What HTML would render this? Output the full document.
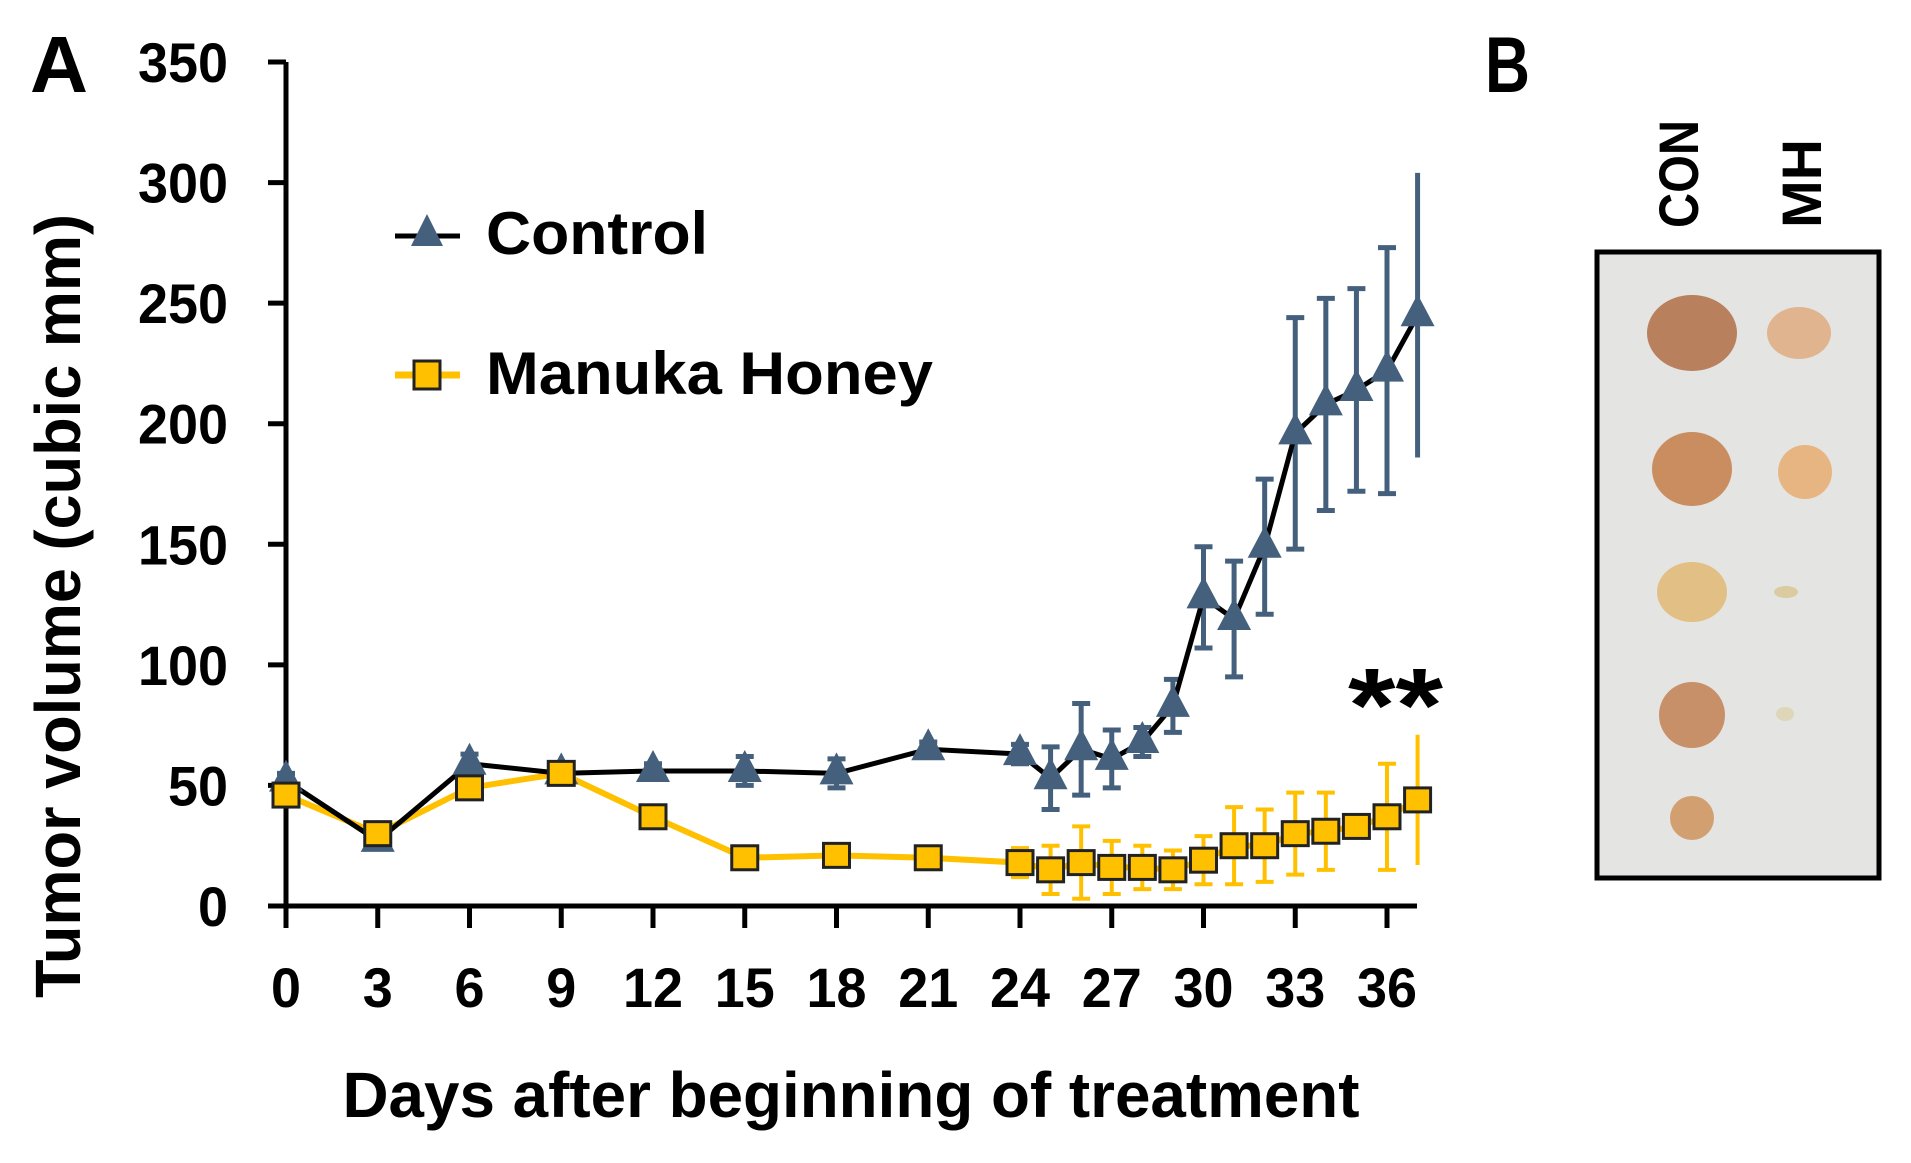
<!DOCTYPE html>
<html><head><meta charset="utf-8"><style>
html,body{margin:0;padding:0;background:#fff;}
svg{display:block;font-family:"Liberation Sans",sans-serif;font-weight:bold;}
</style></head><body>
<svg id="chart" width="1911" height="1163" viewBox="0 0 1911 1163">
<text x="30" y="92" font-size="80" textLength="58" lengthAdjust="spacingAndGlyphs">A</text>
<text x="1485" y="92" font-size="79" textLength="45" lengthAdjust="spacingAndGlyphs">B</text>
<g id="axes"></g>
<g id="marks"></g>
<text transform="translate(80,606) rotate(-90)" text-anchor="middle" font-size="64" textLength="784" lengthAdjust="spacingAndGlyphs">Tumor volume (cubic mm)</text>
<text x="851" y="1117" text-anchor="middle" font-size="64" textLength="1017" lengthAdjust="spacingAndGlyphs">Days after beginning of treatment</text>
<g>
<g>
<line x1="395" y1="236" x2="460" y2="236" stroke="#000" stroke-width="5"/>
<polygon points="427,214 443,246 411,246" fill="#44607d"/>
<text x="486" y="254" font-size="60" textLength="222" lengthAdjust="spacingAndGlyphs">Control</text></g>
<g>
<line x1="395" y1="375" x2="460" y2="375" stroke="#FFC000" stroke-width="7"/>
<rect x="414" y="361" width="26" height="28" fill="#FFC000" stroke="#222" stroke-width="3"/>
<text x="486" y="394" font-size="60" textLength="447" lengthAdjust="spacingAndGlyphs">Manuka Honey</text></g>
</g>
<text x="1348" y="741" font-size="105" textLength="95" lengthAdjust="spacingAndGlyphs">**</text>
<g>
<rect x="1597" y="252" width="282" height="626" fill="#e4e4e2" stroke="#000" stroke-width="5"/>
<ellipse cx="1692" cy="333" rx="45" ry="38" fill="#b8805c"/>
<ellipse cx="1799" cy="333" rx="32" ry="26" fill="#e0b48e"/>
<ellipse cx="1692" cy="469" rx="40" ry="37" fill="#c98d60"/>
<ellipse cx="1805" cy="472" rx="27" ry="27" fill="#e6b582"/>
<ellipse cx="1692" cy="592" rx="35" ry="30" fill="#e2bf84"/>
<ellipse cx="1786" cy="592" rx="12" ry="6" fill="#dccaa0"/>
<ellipse cx="1692" cy="715" rx="33" ry="33" fill="#c89068"/>
<ellipse cx="1785" cy="714" rx="9" ry="7" fill="#ded6b8"/>
<ellipse cx="1692" cy="818" rx="22" ry="22" fill="#d2a070"/>
</g>
<text transform="translate(1698,228) rotate(-90)" font-size="56" textLength="108" lengthAdjust="spacingAndGlyphs">CON</text>
<text transform="translate(1821,228) rotate(-90)" font-size="56" textLength="89" lengthAdjust="spacingAndGlyphs">MH</text>
</svg>
<script>
const days=[0,3,6,9,12,15,18,21,24,25,26,27,28,29,30,31,32,33,34,35,36,37];
const controlVals=[52,27,59,55,56,56,55,65,63,53,65,61,68,83,128,119,149,196,208,214,222,245];
const controlErr=[3,2,4,2,3,6,6,3,4,13,19,12,6,11,21,24,28,48,44,42,51,59];
const mhVals=[46,30,49,55,37,20,21,20,18,15,18,16,16,15,19,25,25,30,31,33,37,44];
const mhErr=[2,2,2,2,2,2,2,2,6,10,15,11,9,8,10,16,15,17,16,0,22,27];
const yTicks=[0,50,100,150,200,250,300,350];
const xTicks=[0,3,6,9,12,15,18,21,24,27,30,33,36];
const NS="http://www.w3.org/2000/svg";
const X0=286,XPD=(1387-286)/36,Y0=906,YPU=(906-62)/350;
const xs=d=>X0+d*XPD, ys=v=>Y0-v*YPU;
function el(t,a,p){const e=document.createElementNS(NS,t);for(const k in a)e.setAttribute(k,a[k]);p.appendChild(e);return e;}
const axes=document.getElementById('axes'),marks=document.getElementById('marks');
let e=el('line',{x1:X0-18,y1:ys(0),x2:1417,y2:ys(0),stroke:'#000','stroke-width':5},axes);


e=el('line',{x1:X0,y1:ys(350),x2:X0,y2:ys(0)+22,stroke:'#000','stroke-width':5},axes);


yTicks.forEach(v=>{
 el('line',{x1:X0-18,y1:ys(v),x2:X0,y2:ys(v),stroke:'#000','stroke-width':5},axes);
 const t=el('text',{x:228,y:ys(v)+20,'text-anchor':'end','font-size':56,textLength:String(v).length*30,lengthAdjust:'spacingAndGlyphs'},axes);t.textContent=v;
 
 
});
xTicks.forEach(d=>{
 el('line',{x1:xs(d),y1:ys(0),x2:xs(d),y2:ys(0)+22,stroke:'#000','stroke-width':5},axes);
 const t=el('text',{x:xs(d),y:1007,'text-anchor':'middle','font-size':56,textLength:String(d).length*30,lengthAdjust:'spacingAndGlyphs'},axes);t.textContent=d;
 
 
});
function errs(vals,errv,col,w,name){
 days.forEach((d,i)=>{if(!errv[i])return;const x=xs(d),a=ys(vals[i]+errv[i]),b=ys(Math.max(0,vals[i]-errv[i]));
  const g=el('g',{},marks);
  
  
  el('line',{x1:x,y1:a,x2:x,y2:b,stroke:col,'stroke-width':w},g);
  if(i<days.length-1){el('line',{x1:x-9,y1:a,x2:x+9,y2:a,stroke:col,'stroke-width':w},g);el('line',{x1:x-9,y1:b,x2:x+9,y2:b,stroke:col,'stroke-width':w},g);}
 });
}
errs(mhVals,mhErr,'#FFC000',4,'mh-error-bar');
errs(controlVals,controlErr,'#44607d',5,'control-error-bar');
e=el('polyline',{points:days.map((d,i)=>xs(d)+','+ys(mhVals[i])).join(' '),fill:'none',stroke:'#FFC000','stroke-width':6},marks);


e=el('polyline',{points:days.map((d,i)=>xs(d)+','+ys(controlVals[i])).join(' '),fill:'none',stroke:'#000','stroke-width':5},marks);


days.forEach((d,i)=>{const x=xs(d),y=ys(controlVals[i]);
 const p=el('polygon',{points:`${x},${y-21} ${x+17},${y+11} ${x-17},${y+11}`,fill:'#44607d'},marks);
 
 
});
days.forEach((d,i)=>{const x=xs(d),y=ys(mhVals[i]);
 const r=el('rect',{x:x-13,y:y-12,width:26,height:24,fill:'#FFC000',stroke:'#222','stroke-width':3},marks);
 
 
});
</script>
</body></html>
